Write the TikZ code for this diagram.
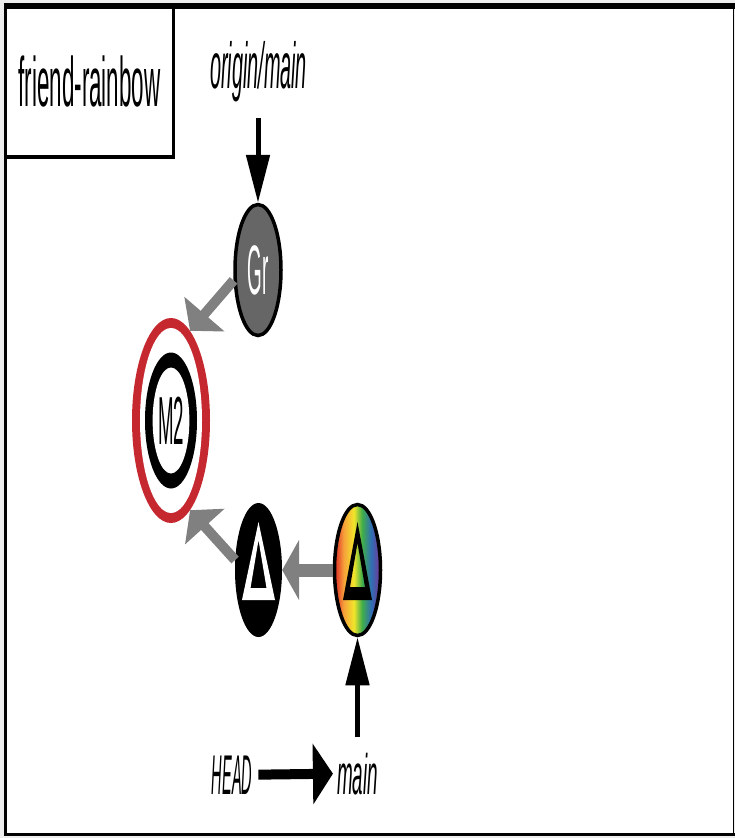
\documentclass[tikz,border=0pt]{standalone}
\usepackage{fontspec}
\setmainfont{Liberation Sans}
\usepackage{graphicx}
\usetikzlibrary{shapes.geometric, arrows.meta}

\definecolor{mergered}{RGB}{198,40,48}
\definecolor{commitgray}{RGB}{102,102,102}
\definecolor{linkgray}{RGB}{128,128,128}
\definecolor{rbred}{RGB}{226,64,43}
\definecolor{rborange}{RGB}{246,161,58}
\definecolor{rbyellow}{RGB}{242,229,43}
\definecolor{rbgreen}{RGB}{63,174,73}
\definecolor{rbblue}{RGB}{47,109,181}
\definecolor{rbpurple}{RGB}{107,63,152}
\pgfdeclarehorizontalshading{rainbow}{100bp}{color(0bp)=(rbred); color(27bp)=(rbred); color(35bp)=(rborange); color(46bp)=(rbyellow); color(55bp)=(rbgreen); color(65bp)=(rbblue); color(73bp)=(rbpurple); color(100bp)=(rbpurple)}

\newcommand{\squeeze}[2]{\scalebox{#1}[1]{#2}}

\begin{document}
\begin{tikzpicture}[x=1pt, y=-1pt,
        reflabel/.style={inner sep=0pt, anchor=base, font=\fontsize{#1}{#1}\selectfont\itshape},
        commit/.style={ellipse, inner sep=0pt, minimum width=46pt, minimum height=131pt},
        parent/.style={draw=linkgray, line width=10pt, -{Triangle[length=22pt, width=52pt]}},
        pointer/.style={draw=black, line width=5pt, -{Triangle[length=48pt, width=23pt]}}]
    \useasboundingbox (0,0) rectangle (735,838);
    \fill[black!7] (0,0) rectangle (735,838);
    \fill[white] (5.5,6) rectangle (733.5,834.5);
    \draw[line width=3pt] (5.5,4) -- (5.5,836);
    \draw[line width=3pt] (4,834.5) -- (735,834.5);
    \draw[line width=1.5pt] (733.5,6) -- (733.5,836);
    \draw[line width=6.5pt] (4,6) -- (735,6);

    \node[draw, line width=3.5pt, outer sep=0pt, inner sep=0pt, anchor=north west, minimum width=168pt, minimum height=151pt, font=\fontsize{70}{70}\selectfont] (branch) at (5.5,6) {\squeeze{0.32}{friend-rainbow}};

    \node[commit, draw, line width=3.5pt, fill=commitgray, text=white, font=\fontsize{70}{70}\selectfont] (gr) at (258,270) {\squeeze{0.27}{Gr}};
    \node[ellipse, fill=mergered, minimum width=78pt, minimum height=205pt] (m2) at (171,420.5) {};
    \fill[white] (m2.center) ellipse [x radius=31pt, y radius=92.5pt];
    \fill[black] (m2.center) ellipse [x radius=26pt, y radius=68pt];
    \node[ellipse, fill=white, inner sep=0pt, minimum width=35pt, minimum height=106pt, font=\fontsize{68}{68}\selectfont] (m2in) at (m2) {\squeeze{0.275}{M2}};
    \node[commit, fill=black, minimum width=47pt, minimum height=134pt] (delta) at (258.5,570) {};
    \fill[white, even odd rule, shift={(delta)}] (0,-48) -- (16.5,30) -- (-16.5,30) -- cycle (0,-30) -- (8,18) -- (-8,18) -- cycle;
    \node[commit, draw, line width=3.5pt, shade, shading=rainbow] (rain) at (357.5,570) {};
    \fill[black, even odd rule, shift={(rain)}] (0,-48) -- (14.5,30) -- (-14.5,30) -- cycle (0,-27) -- (7.5,17) -- (-7.5,17) -- cycle;

    \node[reflabel=65] (origin) at (258.5,88) {\squeeze{0.305}{origin/main}};
    \node[reflabel=56] (head) at (232,794) {\squeeze{0.26}{HEAD}};
    \node[reflabel=57] (main) at (357.5,794) {\squeeze{0.33}{main}};
    \coordinate (origintail) at (258,118);
    \coordinate (maintail) at (357.5,737);

    \draw[parent] (gr.203) -- (m2.78);
    \draw[parent] (delta.157) -- (m2.-78);
    \draw[parent, line width=13pt, -{Triangle[length=17pt, width=60pt]}] (rain) -- (delta);
    \draw[pointer] (origintail) -- (gr);
    \draw[pointer] (maintail) -- (rain);
    \draw[pointer, line width=10pt, -{Triangle[length=20pt, width=60pt]}, shorten <=6pt, shorten >=4pt] (head.east) -- (main.west);
\end{tikzpicture}
\end{document}
